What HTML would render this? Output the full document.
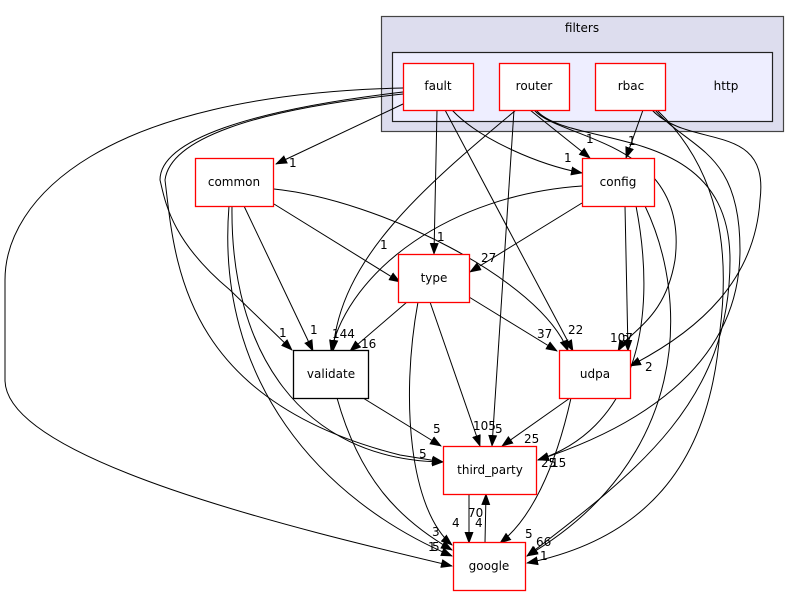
<!DOCTYPE html>
<html><head><meta charset="utf-8"><style>
html,body{margin:0;padding:0;background:#fff;}
svg{display:block;}
text{font-family:"DejaVu Sans","Liberation Sans",sans-serif;font-size:12px;fill:#000;}
.e{fill:none;stroke:#000;stroke-width:1;}
.l{font-size:12px;}
</style></head><body>
<svg width="800" height="596" viewBox="0 0 800 596" xmlns="http://www.w3.org/2000/svg">
<defs><marker id="a" markerWidth="12" markerHeight="10" refX="11" refY="5" orient="auto" markerUnits="userSpaceOnUse"><path d="M0,0.5 L12,5 L0,9.5 Z" fill="#000"/></marker></defs>
<rect x="381.5" y="16.5" width="402" height="115" fill="#ddddee" stroke="#444" stroke-width="1.2"/>
<text x="582" y="32" text-anchor="middle">filters</text>
<rect x="392.5" y="52.5" width="380" height="69" fill="#eeeeff" stroke="#222" stroke-width="1.2"/>
<text x="726" y="90" text-anchor="middle">http</text>

<g class="e" marker-end="url(#a)">
<path d="M403,104 L276,164"/>
<path d="M437,110 L434,254"/>
<path d="M452,110 C480,140 540,165 582,173"/>
<path d="M445,110 L573,351"/>
<path d="M403,92 C250,110 160,140 160,180 C165,200 170,240 230,290 L292,350"/>
<path d="M403,94 C250,110 170,140 165,180 C175,260 180,400 400,455 L443,462"/>
<path d="M403,88 C100,95 5,200 5,280 L5,380 C5,460 300,530 452,566"/>
<path d="M516,110 C420,190 340,260 333,351"/>
<path d="M514,110 L492,446"/>
<path d="M530,110 L590,158"/>
<path d="M534,110 C560,140 690,140 675,260 C665,320 630,330 618,351"/>
<path d="M536,110 C570,150 730,120 730,260 C730,400 640,470 527,556"/>
<path d="M643,110 L626,158"/>
<path d="M652,110 C690,150 770,120 760,200 C755,280 700,330 630,366"/>
<path d="M655,110 C690,150 740,150 740,250 C740,370 630,430 538,460"/>
<path d="M657,110 C720,170 730,250 720,330 C710,470 640,540 527,563"/>
<path d="M274,204 L400,282"/>
<path d="M274,189 C380,200 540,280 568,351"/>
<path d="M244,206 L313,351"/>
<path d="M232,206 C230,350 300,460 443,462"/>
<path d="M229,206 C215,380 320,500 452,556"/>
<path d="M582,186 C450,195 350,270 331,351"/>
<path d="M582,203 L470,272"/>
<path d="M625,206 L628,351"/>
<path d="M636,206 C660,330 630,430 538,460"/>
<path d="M645,206 C690,300 690,460 527,556"/>
<path d="M407,302 L350,351"/>
<path d="M469,297 L557,351"/>
<path d="M430,302 L480,446"/>
<path d="M418,302 C400,400 410,510 452,545"/>
<path d="M363,398 L441,446"/>
<path d="M337,398 C360,480 400,520 452,550"/>
<path d="M570,398 L502,446"/>
<path d="M571,398 C555,470 530,520 500,543"/>
<path d="M469,494 L469,543"/>
<path d="M485,543 L486,494"/>
</g>

<g fill="#fff" stroke-width="1.3">
<rect x="403.5" y="63.5" width="70" height="47" stroke="red"/>
<rect x="499.5" y="63.5" width="70" height="47" stroke="red"/>
<rect x="595.5" y="63.5" width="70" height="47" stroke="red"/>
<rect x="195.5" y="158.5" width="78" height="48" stroke="red"/>
<rect x="582.5" y="158.5" width="72" height="48" stroke="red"/>
<rect x="398.5" y="254.5" width="71" height="48" stroke="red"/>
<rect x="293.5" y="350.5" width="75" height="48" stroke="#000"/>
<rect x="559.5" y="350.5" width="71" height="48" stroke="red"/>
<rect x="443.5" y="446.5" width="93" height="48" stroke="red"/>
<rect x="453.5" y="542.5" width="72" height="48" stroke="red"/>
</g>
<g text-anchor="middle">
<text x="438" y="90">fault</text>
<text x="534" y="90">router</text>
<text x="631" y="90">rbac</text>
<text x="234" y="186">common</text>
<text x="618" y="186">config</text>
<text x="434" y="282">type</text>
<text x="331" y="378">validate</text>
<text x="595" y="378">udpa</text>
<text x="490" y="474">third_party</text>
<text x="489" y="570">google</text>
</g>
<g class="l">
<text x="289" y="167">1</text>
<text x="437" y="241">1</text>
<text x="564" y="162">1</text>
<text x="586" y="143">1</text>
<text x="628" y="145">1</text>
<text x="380" y="249">1</text>
<text x="481" y="262">27</text>
<text x="279" y="337">1</text>
<text x="310" y="334">1</text>
<text x="332" y="338">144</text>
<text x="361" y="348">16</text>
<text x="537" y="338">37</text>
<text x="568" y="334">22</text>
<text x="610" y="342">107</text>
<text x="622" y="344">2</text>
<text x="645" y="371">2</text>
<text x="433" y="433">5</text>
<text x="473" y="430">105</text>
<text x="495" y="433">5</text>
<text x="524" y="443">25</text>
<text x="419" y="458">5</text>
<text x="541" y="467">25</text>
<text x="551" y="467">15</text>
<text x="468" y="517">70</text>
<text x="475" y="527">4</text>
<text x="432" y="536">3</text>
<text x="452" y="527">4</text>
<text x="428" y="551">1</text>
<text x="432" y="551">5</text>
<text x="525" y="538">5</text>
<text x="536" y="546">66</text>
<text x="540" y="560">1</text>
</g>
</svg>
</body></html>
